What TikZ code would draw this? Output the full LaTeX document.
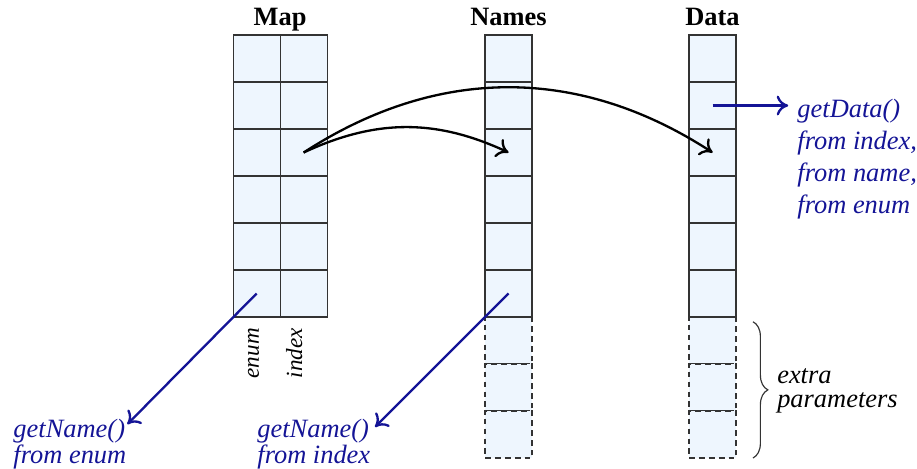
\documentclass[tikz,border=0pt]{standalone}
\usepackage{fontspec}
\setmainfont{Liberation Serif}
\usetikzlibrary{calc}
\usetikzlibrary{arrows.meta}
\usetikzlibrary{decorations.pathreplacing}

\definecolor{cellfill}{RGB}{238, 246, 254}
\definecolor{callblue}{RGB}{20, 20, 150}

\tikzset{
  cell/.style = {draw = black!80, fill = cellfill, line width = .7pt,
    minimum size = 1cm, inner sep = 0, outer sep = 0},
  spare/.style = {cell, dash pattern = on 3.5pt off 2.5pt},
  title/.style = {font = \fontsize{16}{19}\selectfont\bfseries, anchor = base},
  tag/.style = {font = \fontsize{14}{17}\selectfont\itshape, inner sep = 0,
    rotate = 90, anchor = base east},
  call/.style = {font = \fontsize{16}{19.4}\selectfont\itshape, text = callblue,
    align = left, inner sep = 0, anchor = base west},
  link/.style = {-{To[length = 7pt, width = 12pt]}, line width = 1.4pt},
  calllink/.style = {link, draw = callblue}
}

\begin{document}
\begin{tikzpicture}
  \useasboundingbox (-4.96, .745) rectangle (14.55, -9.23);

  \foreach \i in {7, 8, 9} {
    \node[spare] (name\i) at (5.86, .5 - \i) {};
    \node[spare] (data\i) at (10.2, .5 - \i) {};
  }
  \foreach \i in {1, ..., 6} {
    \node[cell] (enum\i) at (.5, .5 - \i) {};
    \node[cell] (index\i) at (1.5, .5 - \i) {};
    \node[cell] (name\i) at (5.86, .5 - \i) {};
    \node[cell] (data\i) at (10.2, .5 - \i) {};
  }

  \node[title] (maptitle) at ($(enum1.north east) + (0, .21)$) {Map};
  \node[title] (nametitle) at ($(name1.north) + (0, .21)$) {Names};
  \node[title] (datatitle) at ($(data1.north) + (0, .21)$) {Data};

  \node[tag] (enumtag) at (.55, -6.23) {enum};
  \node[tag] (indextag) at (1.47, -6.23) {index};

  \draw[link] (index3.center) to[bend left = 25] (name3.center);
  \draw[link] (index3.center) to[bend left = 33] (data3.center);

  \coordinate (datatip) at (11.81, -1.5);
  \coordinate (enumtip) at (-2.25, -8.28);
  \coordinate (nametip) at (3.02, -8.34);
  \draw[calllink] (data2.center) -- (datatip);
  \draw[calllink] (enum6.center) -- (enumtip);
  \draw[calllink] (name6.center) -- (nametip);

  % base anchor is the baseline of the last line
  \node[call] (getdata) at (12, -3.79)
  {getData()\\from index,\\from name,\\from enum};
  \node[call, font = \fontsize{16}{15.7}\selectfont\itshape] (getenum)
  at (-4.68, -9.11) {getName()\\from enum};
  \node[call, font = \fontsize{16}{15.7}\selectfont\itshape] (getindex)
  at (.51, -9.11) {getName()\\from index};

  \draw[decorate, decoration = {brace, amplitude = 9pt}, draw = black!80,
    line width = .7pt]
  ($(data7.north east) + (.36, -.1)$) -- ($(data9.south east) + (.36, 0)$);
  \node[call, text = black, font = \fontsize{16}{14.5}\selectfont\itshape]
  (extra) at (11.57, -7.92) {extra\\parameters};
\end{tikzpicture}
\end{document}
